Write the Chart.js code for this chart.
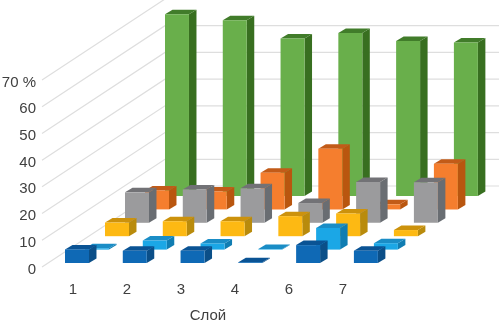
<!DOCTYPE html>
<html>
<head>
<meta charset="utf-8">
<style>
  html, body { margin: 0; padding: 0; background: #fff; }
  canvas { display: block; }
</style>
<script src="https://cdn.jsdelivr.net/npm/chart.js@4/dist/chart.umd.js"></script>
</head>
<body>
<canvas id="chart" width="499" height="323"></canvas>
<script>
const categories = ['1', '2', '3', '4', '6', '7'];

// rows from front to back
const darkBlue = [5.1, 4.6, 4.6, 0.3, 6.7, 4.6];
const lightBlue = [0.5, 3.4, 2.3, 0.2, 8.1, 2.4];
const yellow = [5.1, 5.6, 5.6, 7.5, 8.5, 2.3];
const gray = [11.4, 12.5, 12.9, 7.4, 15.3, 15.2];
const orange = [7.1, 6.7, 13.7, 22.7, 1.9, 17.1];
const green = [68, 65.8, 59, 61, 58, 57.5];

const yMax = 70;
const yStep = 10;

// oblique projection of the floor
const rowDx = 20;
const rowDy = 13.4;
const depthDx = 7.5;
const depthDy = 4.5;
const catStretch = 1.07;   // bars spread a bit wider than the axis labels
const wallDx = 123;
const wallDy = 81;

function makeSeries(label, data, face, top, side) {
    return { label, data, backgroundColor: face, topColor: top, sideColor: side };
}

function fillPoly(ctx, color, pts) {
    ctx.fillStyle = color;
    ctx.beginPath();
    ctx.moveTo(pts[0][0], pts[0][1]);
    for (let i = 1; i < pts.length; i++) ctx.lineTo(pts[i][0], pts[i][1]);
    ctx.closePath();
    ctx.fill();
}

const box3d = {
    id: 'box3d',
    beforeDatasetDraw(chart, args) {
        const ctx = chart.ctx;
        const row = args.index;
        const ds = chart.data.datasets[row];
        const firstX = args.meta.data[0].x;
        ctx.save();
        args.meta.data.forEach(function(el) {
            const w = el.width;
            const x = 65 + (el.x - firstX) * catStretch + row * rowDx;
            const shift = 4 + row * rowDy;
            const y = el.y - shift;
            const base = el.base - shift;
            fillPoly(ctx, ds.sideColor, [[x + w, y], [x + w + depthDx, y - depthDy], [x + w + depthDx, base - depthDy], [x + w, base]]);
            fillPoly(ctx, ds.topColor, [[x, y], [x + w, y], [x + w + depthDx, y - depthDy], [x + depthDx, y - depthDy]]);
            fillPoly(ctx, ds.backgroundColor, [[x, y], [x + w, y], [x + w, base], [x, base]]);
        });
        ctx.restore();
        return false;
    }
};

const walls = {
    id: 'walls',
    beforeDatasetsDraw(chart) {
        const ctx = chart.ctx;
        const yScale = chart.scales.y;
        ctx.save();
        ctx.strokeStyle = '#dedede';
        ctx.lineWidth = 1.2;
        yScale.ticks.forEach(function(tick) {
            const py = yScale.getPixelForValue(tick.value);
            ctx.beginPath();
            ctx.moveTo(42, py);
            ctx.lineTo(42 + wallDx, py - wallDy);
            ctx.lineTo(chart.width, py - wallDy);
            ctx.stroke();
        });
        ctx.restore();
    }
};

const axisFont = { family: '"Liberation Sans", Arial, sans-serif', size: 15 };

new Chart(document.getElementById('chart'), {
    type: 'bar',
    data: {
        labels: categories,
        datasets: [
            makeSeries('Ряд 1', darkBlue, '#0f69b5', '#0a5394', '#0b4f88'),
            makeSeries('Ряд 2', lightBlue, '#1ba7e6', '#1a8dc6', '#107db2'),
            makeSeries('Ряд 3', yellow, '#fdb913', '#cc920c', '#b98b0c'),
            makeSeries('Ряд 4', gray, '#9b9b9d', '#727276', '#696d72'),
            makeSeries('Ряд 5', orange, '#f57e2e', '#c25b18', '#b9560f'),
            makeSeries('Ряд 6', green, '#69af4b', '#417c2a', '#386f20')
        ]
    },
    options: {
        responsive: false,
        animation: false,
        layout: { padding: { top: 80, right: 129, left: 0, bottom: 0 } },
        plugins: {
            legend: { display: false },
            tooltip: { enabled: false }
        },
        datasets: {
            bar: { grouped: false, barPercentage: 0.444, categoryPercentage: 1 }
        },
        scales: {
            x: {
                afterFit(scale) { scale.height = 56; },
                grid: { display: false, drawTicks: false },
                border: { display: false },
                ticks: { color: '#404040', font: axisFont, padding: 14, maxRotation: 0 },
                title: { display: true, text: 'Слой', color: '#404040', font: { family: axisFont.family, size: 15, lineHeight: 1 }, padding: 0 }
            },
            y: {
                min: 0,
                max: yMax,
                afterFit(scale) { scale.width = 46; },
                grid: { display: false, drawTicks: false },
                border: { display: false },
                ticks: {
                    stepSize: yStep,
                    color: '#404040',
                    font: axisFont,
                    padding: 10,
                    labelOffset: 2.5,
                    callback: function(v) { return v === yMax ? v + ' %' : v; }
                }
            }
        }
    },
    plugins: [walls, box3d]
});
</script>
</body>
</html>
